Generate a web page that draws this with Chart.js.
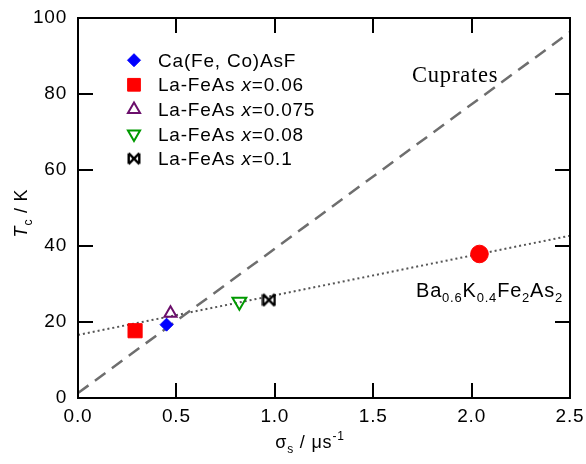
<!DOCTYPE html>
<html><head><meta charset="utf-8">
<script src="https://cdn.jsdelivr.net/npm/chart.js@4/dist/chart.umd.min.js"></script>
<style>html,body{margin:0;padding:0;background:#fff}#wrap{width:586px;height:464px}</style>
</head><body><div id="wrap"><canvas id="c" width="586" height="464"></canvas></div>
<script>
// ---- data ----
const seriesLabels = ['Ca(Fe, Co)AsF', 'La-FeAs x=0.06', 'La-FeAs x=0.075', 'La-FeAs x=0.08', 'La-FeAs x=0.1', 'Ba0.6K0.4Fe2As2'];
const sigmaS = [0.45, 0.29, 0.47, 0.82, 0.97, 2.04];
const tc     = [19.3, 17.7, 22.3, 25.3, 25.8, 37.9];
const cupratesLineX = [0, 2.5];
const cupratesLineY = [1.3, 96.3];
const pnictideLineX = [0, 2.5];
const pnictideLineY = [16.6, 42.7];
const xTickLabels = ['0.0', '0.5', '1.0', '1.5', '2.0', '2.5'];
const yTickLabels = ['0', '20', '40', '60', '80', '100'];

// ---- styles ----
const SANS = '"Liberation Sans", Arial, sans-serif';
const SERIF = '"Liberation Serif", "Times New Roman", serif';
const LS = '0.8px';

function bowtieCanvas(size, color, lw) {
  const c = document.createElement('canvas');
  c.width = size; c.height = size;
  const g = c.getContext('2d');
  g.strokeStyle = color; g.lineWidth = lw; g.lineCap = 'butt';
  const a = lw / 2 + 0.5, b = size - lw / 2 - 0.5;
  g.beginPath();
  g.moveTo(a, a); g.lineTo(a, b);
  g.moveTo(b, a); g.lineTo(b, b);
  g.moveTo(a, a); g.lineTo(b, b);
  g.moveTo(b, a); g.lineTo(a, b);
  g.stroke();
  return c;
}
const bowtie = bowtieCanvas(15, '#000', 2.4);
const bowtieLegend = bowtieCanvas(14, '#000', 2.4);

const markerStyles = [
  {pointStyle: 'rectRot', radius: 6.5, bg: '#0000ff', border: '#0000ff', bw: 1, rot: 0, lr: 6.5},
  {pointStyle: 'rect', radius: 10, bg: '#ff0000', border: '#ff0000', bw: 1, rot: 0, lr: 9},
  {pointStyle: 'triangle', radius: 7, bg: 'rgba(0,0,0,0)', border: '#6b0f6b', bw: 2, rot: 0, lr: 7},
  {pointStyle: 'triangle', radius: 8, bg: 'rgba(0,0,0,0)', border: '#009900', bw: 2, rot: 180, lr: 7},
  {pointStyle: bowtie, radius: 7, bg: '#000', border: '#000', bw: 2, rot: 0, lr: 7, legendImg: bowtieLegend},
  {pointStyle: 'circle', radius: 8.8, bg: '#ff0000', border: '#ff0000', bw: 1, rot: 0, lr: 8.8}
];

const datasets = seriesLabels.map((name, i) => ({
  label: name,
  data: [{x: sigmaS[i], y: tc[i]}],
  pointStyle: markerStyles[i].pointStyle,
  pointRadius: markerStyles[i].radius,
  pointBackgroundColor: markerStyles[i].bg,
  pointBorderColor: markerStyles[i].border,
  pointBorderWidth: markerStyles[i].bw,
  pointRotation: markerStyles[i].rot,
  showLine: false,
  order: 1
}));
datasets.push({
  label: 'cuprates', data: cupratesLineX.map((x, i) => ({x, y: cupratesLineY[i]})),
  showLine: true, borderColor: '#6e6e6e', borderWidth: 2.5, borderDash: [13, 8],
  pointRadius: 0, order: 10
});
datasets.push({
  label: 'pnictides', data: pnictideLineX.map((x, i) => ({x, y: pnictideLineY[i]})),
  showLine: true, borderColor: '#555', borderWidth: 2, borderDash: [2, 3],
  pointRadius: 0, order: 10
});

function drawRich(ctx, segs, x, y, align) {
  ctx.letterSpacing = LS;
  let w = 0;
  const measured = segs.map(s => {
    ctx.font = (s.italic ? 'italic ' : '') + s.size + 'px ' + (s.family || SANS);
    const m = ctx.measureText(s.t).width;
    w += m + (s.gap || 0);
    return m;
  });
  let cx = align === 'center' ? x - w / 2 : (align === 'right' ? x - w : x);
  ctx.textBaseline = 'alphabetic';
  ctx.textAlign = 'left';
  segs.forEach((s, i) => {
    ctx.font = (s.italic ? 'italic ' : '') + s.size + 'px ' + (s.family || SANS);
    ctx.fillText(s.t, cx, y + (s.dy || 0));
    cx += measured[i] + (s.gap || 0);
  });
}

const decor = {
  id: 'decor',
  beforeDraw(chart) {
    chart.ctx.letterSpacing = LS;
  },
  afterDraw(chart) {
    const ctx = chart.ctx;
    const a = chart.chartArea;
    const xs = chart.scales.x, ys = chart.scales.y;
    ctx.save();
    ctx.fillStyle = '#000';
    ctx.strokeStyle = '#000';
    // frame
    ctx.lineWidth = 2;
    ctx.strokeRect(a.left, a.top, a.right - a.left, a.bottom - a.top);
    // inward ticks
    const tl = 15;
    ctx.beginPath();
    xs.ticks.forEach(t => {
      if (t.value <= xs.min || t.value >= xs.max) return;
      const px = Math.round(xs.getPixelForValue(t.value));
      ctx.moveTo(px, a.bottom); ctx.lineTo(px, a.bottom - tl);
      ctx.moveTo(px, a.top); ctx.lineTo(px, a.top + tl);
    });
    ys.ticks.forEach(t => {
      if (t.value <= ys.min || t.value >= ys.max) return;
      const py = Math.round(ys.getPixelForValue(t.value));
      ctx.moveTo(a.left, py); ctx.lineTo(a.left + tl, py);
      ctx.moveTo(a.right, py); ctx.lineTo(a.right - tl, py);
    });
    ctx.stroke();

    // legend
    const lx = 134, ly0 = 60.2, dyL = 24.6;
    seriesLabels.slice(0, 5).forEach((name, i) => {
      const ms = markerStyles[i];
      const y = ly0 + i * dyL;
      ctx.save();
      ctx.fillStyle = ms.bg; ctx.strokeStyle = ms.border; ctx.lineWidth = ms.bw;
      if (ms.legendImg) {
        ctx.drawImage(ms.legendImg, lx - ms.legendImg.width / 2, y - ms.legendImg.height / 2);
      } else {
        Chart.helpers.drawPoint(ctx, {pointStyle: ms.pointStyle, radius: ms.lr, rotation: ms.rot, borderWidth: ms.bw}, lx, y);
      }
      ctx.restore();
      ctx.fillStyle = '#000';
      const parts = name.split(' x=');
      const segs = [{t: parts[0] + ' ', size: 19}];
      if (parts.length > 1) {
        segs.push({t: 'x', size: 19, italic: true});
        segs.push({t: '=' + parts[1], size: 19});
      }
      drawRich(ctx, segs, 158, y + 6.6, 'left');
    });

    // annotations
    ctx.fillStyle = '#000';
    drawRich(ctx, [{t: 'Cuprates', size: 22.5, family: SERIF}], 412, 82, 'left');
    drawRich(ctx, [
      {t: 'Ba', size: 20}, {t: '0.6', size: 13, dy: 5},
      {t: 'K', size: 20}, {t: '0.4', size: 13, dy: 5},
      {t: 'Fe', size: 20}, {t: '2', size: 13, dy: 5},
      {t: 'As', size: 20}, {t: '2', size: 13, dy: 5}
    ], 416, 297, 'left');

    // x title
    drawRich(ctx, [
      {t: 'σ', size: 18}, {t: 's', size: 12, dy: 5},
      {t: ' / μs', size: 18}, {t: '-1', size: 12, dy: -8}
    ], 310, 448, 'center');

    // y title (rotated)
    ctx.save();
    ctx.translate(27, 213);
    ctx.rotate(-Math.PI / 2);
    drawRich(ctx, [
      {t: 'T', size: 18, italic: true}, {t: 'c', size: 12, dy: 5},
      {t: ' / K', size: 18}
    ], 0, 0, 'center');
    ctx.restore();
    ctx.restore();
  }
};

new Chart(document.getElementById('c'), {
  type: 'scatter',
  data: {datasets},
  options: {
    responsive: false,
    animation: false,
    devicePixelRatio: 1,
    layout: {padding: {top: 18, right: 16, left: 0, bottom: 0}},
    plugins: {legend: {display: false}, tooltip: {enabled: false}},
    scales: {
      x: {
        type: 'linear', min: 0, max: 2.5,
        afterFit: s => { s.height = 66; s.paddingLeft = 0; s.paddingRight = 0; },
        grid: {display: false, drawTicks: false},
        border: {display: false},
        ticks: {
          stepSize: 0.5, padding: 7, color: '#000',
          font: {family: SANS, size: 19},
          callback: (v, i) => xTickLabels[i]
        }
      },
      y: {
        type: 'linear', min: 0, max: 100,
        afterFit: s => { s.width = 78; s.paddingTop = 0; s.paddingBottom = 0; },
        grid: {display: false, drawTicks: false},
        border: {display: false},
        ticks: {
          stepSize: 20, padding: 11, color: '#000',
          font: {family: SANS, size: 19},
          callback: (v, i) => yTickLabels[i]
        }
      }
    }
  },
  plugins: [decor]
});
</script>
</body></html>
